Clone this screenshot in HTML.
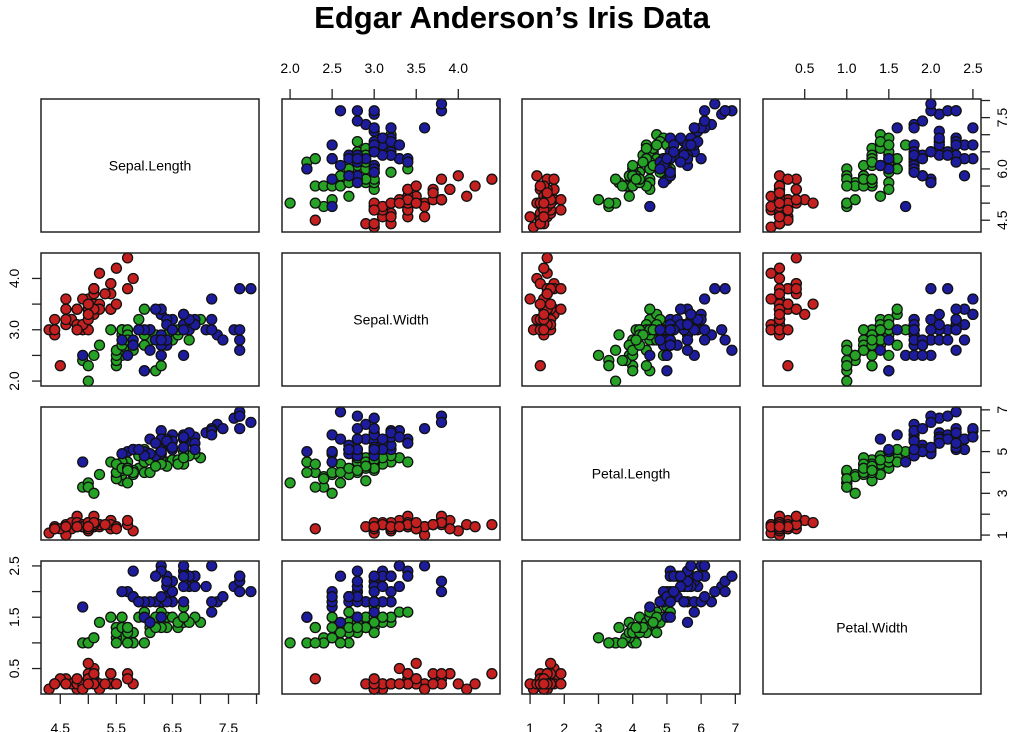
<!DOCTYPE html>
<html><head><meta charset="utf-8"><style>
html,body{margin:0;padding:0;background:#fff;width:1020px;height:732px;overflow:hidden}
svg text{font-family:"Liberation Sans",sans-serif}
</style></head><body>
<svg id="s" width="1020" height="732" xmlns="http://www.w3.org/2000/svg">
<text x="512" y="28" text-anchor="middle" font-size="31" font-weight="bold">Edgar Anderson’s Iris Data</text>
</svg>
<script>
const D="5.1,3.5,1.4,0.2 4.9,3.0,1.4,0.2 4.7,3.2,1.3,0.2 4.6,3.1,1.5,0.2 5.0,3.6,1.4,0.2 5.4,3.9,1.7,0.4 4.6,3.4,1.4,0.3 5.0,3.4,1.5,0.2 4.4,2.9,1.4,0.2 4.9,3.1,1.5,0.1 5.4,3.7,1.5,0.2 4.8,3.4,1.6,0.2 4.8,3.0,1.4,0.1 4.3,3.0,1.1,0.1 5.8,4.0,1.2,0.2 5.7,4.4,1.5,0.4 5.4,3.9,1.3,0.4 5.1,3.5,1.4,0.3 5.7,3.8,1.7,0.3 5.1,3.8,1.5,0.3 5.4,3.4,1.7,0.2 5.1,3.7,1.5,0.4 4.6,3.6,1.0,0.2 5.1,3.3,1.7,0.5 4.8,3.4,1.9,0.2 5.0,3.0,1.6,0.2 5.0,3.4,1.6,0.4 5.2,3.5,1.5,0.2 5.2,3.4,1.4,0.2 4.7,3.2,1.6,0.2 4.8,3.1,1.6,0.2 5.4,3.4,1.5,0.4 5.2,4.1,1.5,0.1 5.5,4.2,1.4,0.2 4.9,3.1,1.5,0.2 5.0,3.2,1.2,0.2 5.5,3.5,1.3,0.2 4.9,3.6,1.4,0.1 4.4,3.0,1.3,0.2 5.1,3.4,1.5,0.2 5.0,3.5,1.3,0.3 4.5,2.3,1.3,0.3 4.4,3.2,1.3,0.2 5.0,3.5,1.6,0.6 5.1,3.8,1.9,0.4 4.8,3.0,1.4,0.3 5.1,3.8,1.6,0.2 4.6,3.2,1.4,0.2 5.3,3.7,1.5,0.2 5.0,3.3,1.4,0.2 7.0,3.2,4.7,1.4 6.4,3.2,4.5,1.5 6.9,3.1,4.9,1.5 5.5,2.3,4.0,1.3 6.5,2.8,4.6,1.5 5.7,2.8,4.5,1.3 6.3,3.3,4.7,1.6 4.9,2.4,3.3,1.0 6.6,2.9,4.6,1.3 5.2,2.7,3.9,1.4 5.0,2.0,3.5,1.0 5.9,3.0,4.2,1.5 6.0,2.2,4.0,1.0 6.1,2.9,4.7,1.4 5.6,2.9,3.6,1.3 6.7,3.1,4.4,1.4 5.6,3.0,4.5,1.5 5.8,2.7,4.1,1.0 6.2,2.2,4.5,1.5 5.6,2.5,3.9,1.1 5.9,3.2,4.8,1.8 6.1,2.8,4.0,1.3 6.3,2.5,4.9,1.5 6.1,2.8,4.7,1.2 6.4,2.9,4.3,1.3 6.6,3.0,4.4,1.4 6.8,2.8,4.8,1.4 6.7,3.0,5.0,1.7 6.0,2.9,4.5,1.5 5.7,2.6,3.5,1.0 5.5,2.4,3.8,1.1 5.5,2.4,3.7,1.0 5.8,2.7,3.9,1.2 6.0,2.7,5.1,1.6 5.4,3.0,4.5,1.5 6.0,3.4,4.5,1.6 6.7,3.1,4.7,1.5 6.3,2.3,4.4,1.3 5.6,3.0,4.1,1.3 5.5,2.5,4.0,1.3 5.5,2.6,4.4,1.2 6.1,3.0,4.6,1.4 5.8,2.6,4.0,1.2 5.0,2.3,3.3,1.0 5.6,2.7,4.2,1.3 5.7,3.0,4.2,1.2 5.7,2.9,4.2,1.3 6.2,2.9,4.3,1.3 5.1,2.5,3.0,1.1 5.7,2.8,4.1,1.3 6.3,3.3,6.0,2.5 5.8,2.7,5.1,1.9 7.1,3.0,5.9,2.1 6.3,2.9,5.6,1.8 6.5,3.0,5.8,2.2 7.6,3.0,6.6,2.1 4.9,2.5,4.5,1.7 7.3,2.9,6.3,1.8 6.7,2.5,5.8,1.8 7.2,3.6,6.1,2.5 6.5,3.2,5.1,2.0 6.4,2.7,5.3,1.9 6.8,3.0,5.5,2.1 5.7,2.5,5.0,2.0 5.8,2.8,5.1,2.4 6.4,3.2,5.3,2.3 6.5,3.0,5.5,1.8 7.7,3.8,6.7,2.2 7.7,2.6,6.9,2.3 6.0,2.2,5.0,1.5 6.9,3.2,5.7,2.3 5.6,2.8,4.9,2.0 7.7,2.8,6.7,2.0 6.3,2.7,4.9,1.8 6.7,3.3,5.7,2.1 7.2,3.2,6.0,1.8 6.2,2.8,4.8,1.8 6.1,3.0,4.9,1.8 6.4,2.8,5.6,2.1 7.2,3.0,5.8,1.6 7.4,2.8,6.1,1.9 7.9,3.8,6.4,2.0 6.4,2.8,5.6,2.2 6.3,2.8,5.1,1.5 6.1,2.6,5.6,1.4 7.7,3.0,6.1,2.3 6.3,3.4,5.6,2.4 6.4,3.1,5.5,1.8 6.0,3.0,4.8,1.8 6.9,3.1,5.4,2.1 6.7,3.1,5.6,2.4 6.9,3.1,5.1,2.3 5.8,2.7,5.1,1.9 6.8,3.2,5.9,2.3 6.7,3.3,5.7,2.5 6.7,3.0,5.2,2.3 6.3,2.5,5.0,1.9 6.5,3.0,5.2,2.0 6.2,3.4,5.4,2.3 5.9,3.0,5.1,1.8".split(" ").map(r=>r.split(",").map(Number));
const names=["Sepal.Length","Sepal.Width","Petal.Length","Petal.Width"];
const rng=[[4.3,7.9],[2.0,4.4],[1.0,6.9],[0.1,2.5]].map(([a,b])=>{const e=(b-a)*0.04;return[a-e,b+e]});
const X0=[41,282,522,763],Y0=[99,253,407,561],W=218,H=133;
const fills=["#c42020","#26a326","#1c1c9c"];
const ticks=[
 {t:[4.5,5,5.5,6,6.5,7,7.5,8],l:{4.5:"4.5",5.5:"5.5",6.5:"6.5",7.5:"7.5"},l2:{4.5:"4.5",6:"6.0",7.5:"7.5"}},
 {t:[2,2.5,3,3.5,4],l:{2:"2.0",2.5:"2.5",3:"3.0",3.5:"3.5",4:"4.0"},l2:{2:"2.0",3:"3.0",4:"4.0"}},
 {t:[1,2,3,4,5,6,7],l:{1:"1",2:"2",3:"3",4:"4",5:"5",6:"6",7:"7"},l2:{1:"1",3:"3",5:"5",7:"7"}},
 {t:[0.5,1,1.5,2,2.5],l:{0.5:"0.5",1:"1.0",1.5:"1.5",2:"2.0",2.5:"2.5"},l2:{0.5:"0.5",1.5:"1.5",2.5:"2.5"}}];
let s="";
const px=(j,v)=>X0[j]+(v-rng[j][0])/(rng[j][1]-rng[j][0])*W;
const py=(i,v)=>Y0[i]+H-(v-rng[i][0])/(rng[i][1]-rng[i][0])*H;
for(let i=0;i<4;i++)for(let j=0;j<4;j++){
 if(i==j){s+=`<text x="${X0[j]+W/2}" y="${Y0[i]+H/2+5}" text-anchor="middle" font-size="14">${names[i]}</text>`;}
 else for(let k=0;k<150;k++){const r=D[k];s+=`<circle cx="${px(j,r[j]).toFixed(1)}" cy="${py(i,r[i]).toFixed(1)}" r="5" fill="${fills[Math.floor(k/50)]}" stroke="#111" stroke-width="1.3"/>`;}
 s+=`<rect x="${X0[j]}" y="${Y0[i]}" width="${W}" height="${H}" fill="none" stroke="#222" stroke-width="1.5"/>`;
}
for(const j of [0,1,2,3]){
 const top=(j%2==1);const y=top?Y0[0]:Y0[3]+H;const tk=ticks[j];
 const xs=tk.t.map(v=>px(j,v));
 tk.t.forEach((v,q)=>{s+=`<line x1="${xs[q]}" x2="${xs[q]}" y1="${top?y-10:y+10}" y2="${y}" stroke="#222" stroke-width="1.3"/>`;
  const lab=tk.l[v];if(lab)s+=`<text x="${xs[q]}" y="${top?y-26:y+39}" text-anchor="middle" font-size="14">${lab}</text>`;});
}
for(const i of [0,1,2,3]){
 const right=(i%2==0);const x=right?X0[3]+W:X0[0];const tk=ticks[i];
 const ys=tk.t.map(v=>py(i,v));
 const ax=right?x+9:x-9;
 tk.t.forEach((v,q)=>{s+=`<line x1="${ax}" x2="${x}" y1="${ys[q]}" y2="${ys[q]}" stroke="#222" stroke-width="1.3"/>`;
  const lab=tk.l2[v];if(lab){const tx=right?x+26:x-22;s+=`<text x="${tx}" y="${ys[q]}" transform="rotate(-90 ${tx} ${ys[q]})" text-anchor="middle" font-size="14">${lab}</text>`;}});
}
document.getElementById("s").insertAdjacentHTML("beforeend",s);
</script>
</body></html>
